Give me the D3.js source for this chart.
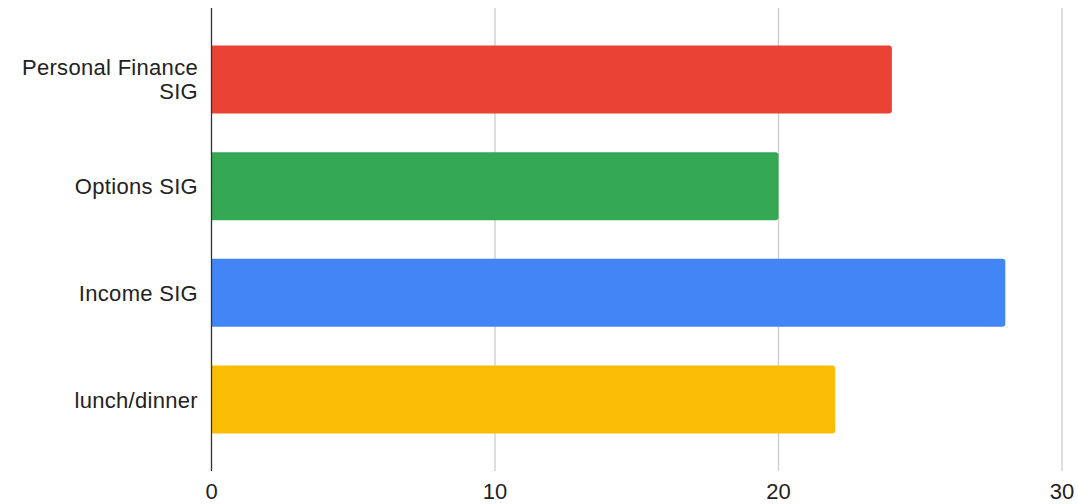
<!DOCTYPE html>
<html><head><meta charset="utf-8">
<script src="https://cdn.jsdelivr.net/npm/d3@7"></script>
<style>body{margin:0;background:#fff}svg{display:block}</style>
</head><body><svg id="c" width="1078" height="504"></svg>
<script>
const categories = ["Personal Finance SIG", "Options SIG", "Income SIG", "lunch/dinner"];
const labelLines = [["Personal Finance", "SIG"], ["Options SIG"], ["Income SIG"], ["lunch/dinner"]];
const values = [24, 20, 28, 22];
const colors = ["#EA4335", "#34A853", "#4285F4", "#FBBC04"];
const ticks = [0, 10, 20, 30];

const svg = d3.select("#c");
const font = "'Liberation Sans', Arial, sans-serif";
const x = d3.scaleLinear().domain([0, 30]).range([211.5, 1062]);
const y = d3.scaleBand().domain(categories).range([8, 471]).paddingInner(0.3625).paddingOuter(0.351);

// gridlines
svg.append("g").selectAll("line").data(ticks.filter(t => t > 0)).join("line")
  .attr("x1", d => x(d)).attr("x2", d => x(d)).attr("y1", 8).attr("y2", 471)
  .attr("stroke", "#cccccc").attr("stroke-width", 1.3);

// bars with rounded right corners
const r = 3;
svg.append("g").selectAll("path").data(categories).join("path")
  .attr("fill", (d, i) => colors[i])
  .attr("d", (d, i) => {
    const x0 = x(0), x1 = x(values[i]), y0 = y(d), h = y.bandwidth();
    return `M${x0},${y0}H${x1 - r}Q${x1},${y0} ${x1},${y0 + r}V${y0 + h - r}Q${x1},${y0 + h} ${x1 - r},${y0 + h}H${x0}Z`;
  });

// axis line at 0
svg.append("line").attr("x1", x(0)).attr("x2", x(0)).attr("y1", 8).attr("y2", 471)
  .attr("stroke", "#333333").attr("stroke-width", 1.3);

// tick labels
svg.append("g").selectAll("text").data(ticks).join("text")
  .attr("x", d => x(d)).attr("y", 499).attr("text-anchor", "middle")
  .attr("font-family", font).attr("font-size", 22).attr("fill", "#222")
  .text(d => d);

// category labels
const lg = svg.append("g").selectAll("text").data(categories).join("text")
  .attr("text-anchor", "end").attr("font-family", font).attr("font-size", 22).attr("fill", "#222")
  .attr("letter-spacing", 0.3)
  .attr("x", 198)
  .attr("y", (d, i) => y(d) + y.bandwidth() / 2 - (labelLines[i].length - 1) * 12 + 8);
lg.each(function (d, i) {
  d3.select(this).selectAll("tspan").data(labelLines[i]).join("tspan")
    .attr("x", 198).attr("dy", (t, j) => j === 0 ? 0 : 24).text(t => t);
});
</script></body></html>
